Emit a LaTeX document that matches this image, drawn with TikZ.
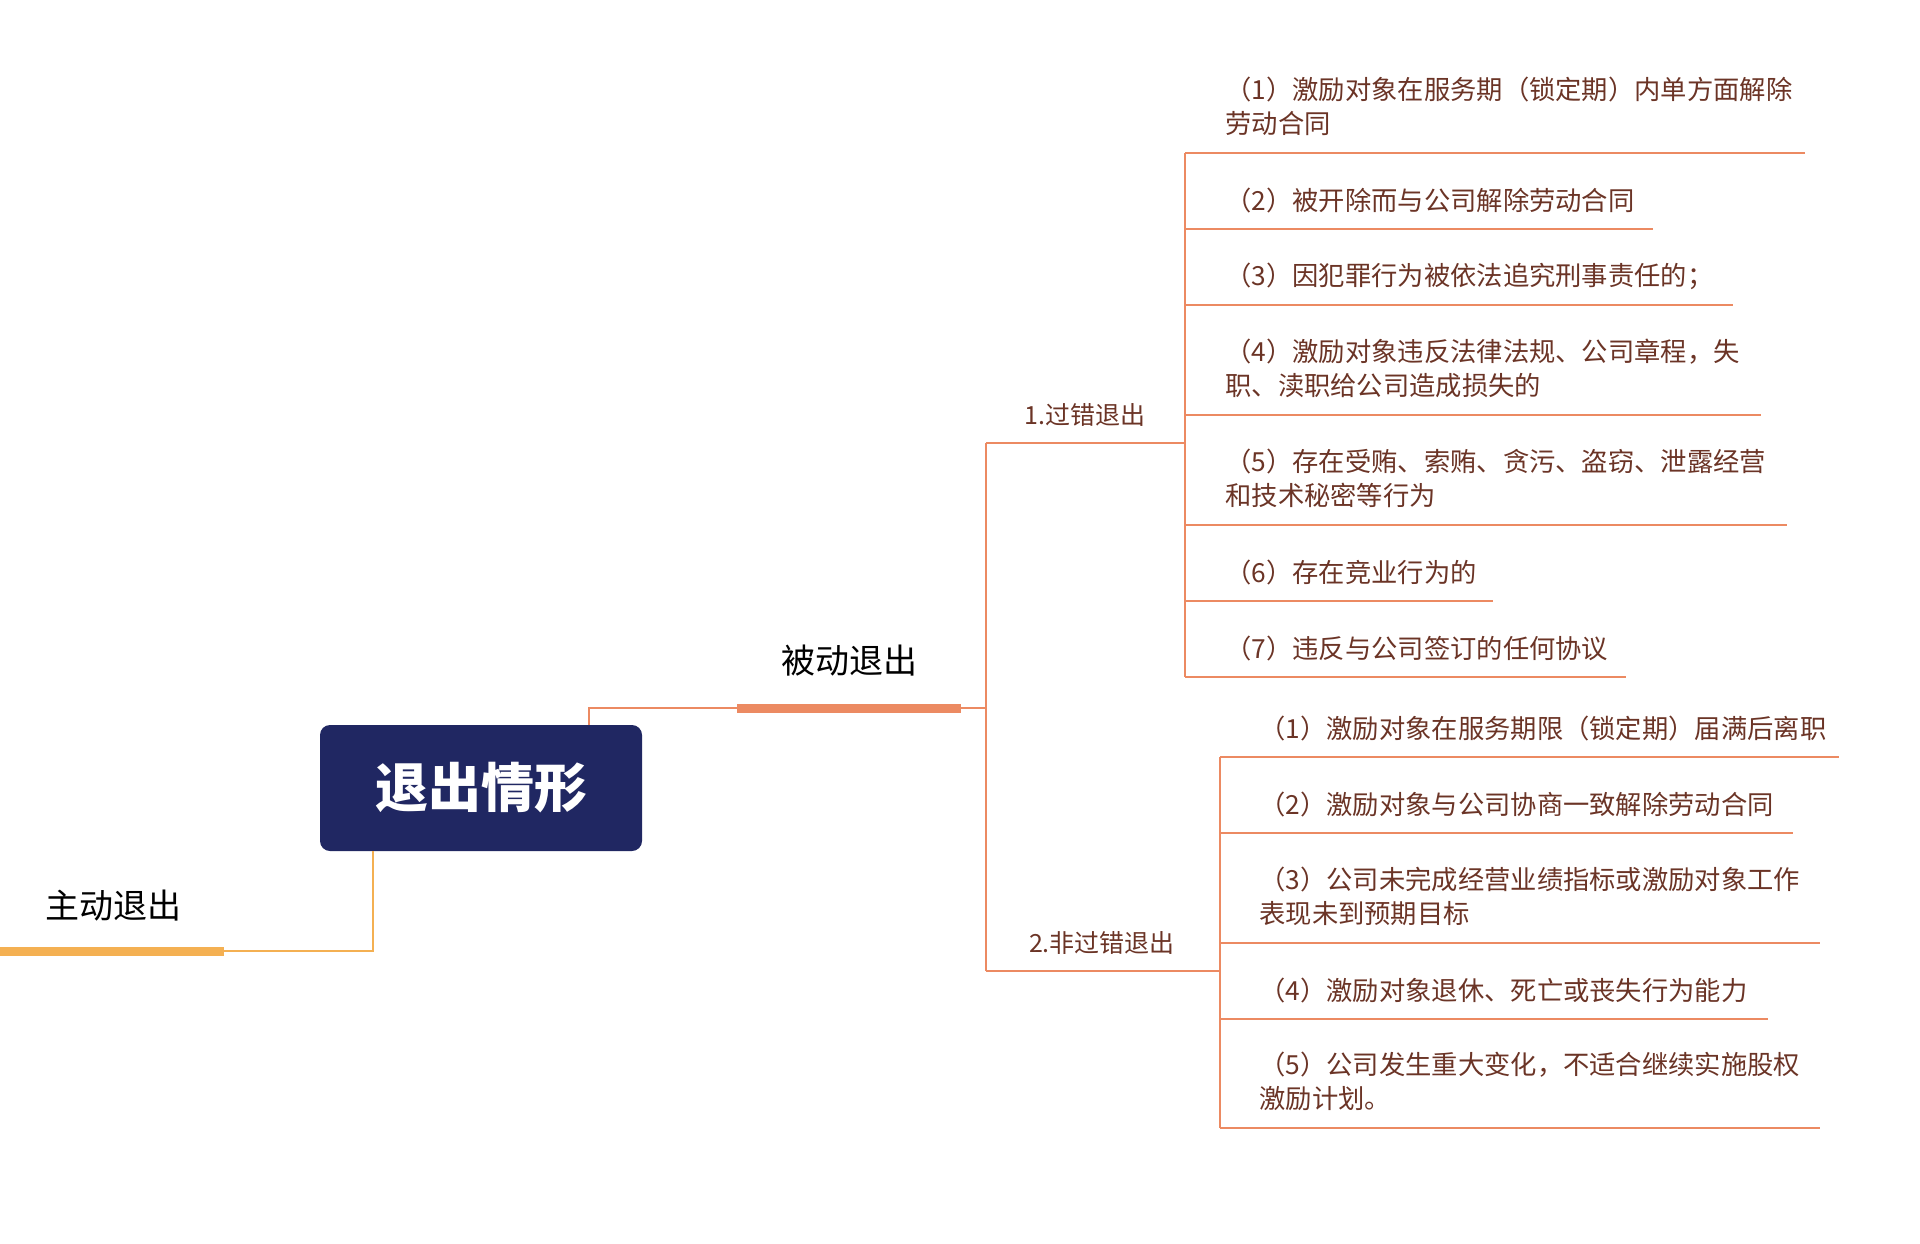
\documentclass[tikz,border=0pt]{standalone}
\usepackage{fontspec}
\setmainfont{Noto Sans CJK SC}
\definecolor{navy}{HTML}{202762}
\definecolor{lineor}{HTML}{EC8A62}
\definecolor{lineyl}{HTML}{F4B052}
\definecolor{txtbr}{HTML}{6B3426}
\begin{document}
\begin{tikzpicture}[x=0.5pt,y=-0.5pt,
  rootbox/.style={fill=navy,text=white,rounded corners=5pt,minimum width=161pt,minimum height=63pt,inner sep=0pt,font=\fontsize{26.5}{30}\selectfont\bfseries},
  mainlbl/.style={text=black,inner sep=0pt,font=\fontsize{17}{20}\selectfont},
  sublbl/.style={text=txtbr,inner sep=0pt,font=\fontsize{12.5}{15}\selectfont},
  item/.style={text=txtbr,inner sep=0pt,anchor=west,align=left,font=\fontsize{13.15}{17}\selectfont},
  thinor/.style={draw=lineor,line width=1pt},
  thickor/.style={draw=lineor,line width=4.5pt},
  thinyl/.style={draw=lineyl,line width=1pt},
  thickyl/.style={draw=lineyl,line width=4.5pt}]
\useasboundingbox (0,0) rectangle (1920,1243);

% root
\node[rootbox] (root) at (481,788) {退出情形};

% passive branch
\node[mainlbl] (passive) at (849,661) {被动退出};
\coordinate (pup) at (589,708);
\coordinate (pbarL) at (737,708);
\coordinate (pbarR) at (961,708);
\coordinate (pj) at (986,708);
\draw[thinor] (root.north -| pup) -- (pup) -- (pbarL);
\draw[thickor] (pbarL) -- (pbarR);
\draw[thinor] (pbarR) -- (pj);

% active branch
\node[mainlbl] (active) at (113,906) {主动退出};
\coordinate (adown) at (373,951);
\coordinate (abarR) at (224,951);
\coordinate (abarL) at (0,951);
\draw[thinyl] (root.south -| adown) -- (adown) -- (abarR);
\draw[thickyl] (abarR) -- (abarL);

% sub branches
\coordinate (g1j) at (986,443);
\coordinate (g2j) at (986,971);
\coordinate (g1v) at (1185,443);
\coordinate (g2v) at (1220,971);
\draw[thinor] (g1j) -- (g2j);
\draw[thinor] (g1j) -- (g1v);
\draw[thinor] (g2j) -- (g2v);
\node[sublbl] (g1) at (1085,415) {1.过错退出};
\node[sublbl] (g2) at (1102,943) {2.非过错退出};

% group 1 items
\node[item] (a1) at (1225,106.5) {（1）激励对象在服务期（锁定期）内单方面解除\\劳动合同};
\node[item] (a2) at (1225,200) {（2）被开除而与公司解除劳动合同};
\node[item] (a3) at (1225,276) {（3）因犯罪行为被依法追究刑事责任的；};
\node[item] (a4) at (1225,368.5) {（4）激励对象违反法律法规、公司章程，失\\职、渎职给公司造成损失的};
\node[item] (a5) at (1225,478.5) {（5）存在受贿、索贿、贪污、盗窃、泄露经营\\和技术秘密等行为};
\node[item] (a6) at (1225,572) {（6）存在竞业行为的};
\node[item] (a7) at (1225,648) {（7）违反与公司签订的任何协议};
\draw[thinor] (1185,153) -- (1185,677);
\draw[thinor] (1185,153) -- (1805,153);
\draw[thinor] (1185,229) -- (1653,229);
\draw[thinor] (1185,305) -- (1733,305);
\draw[thinor] (1185,415) -- (1761,415);
\draw[thinor] (1185,525) -- (1787,525);
\draw[thinor] (1185,601) -- (1493,601);
\draw[thinor] (1185,677) -- (1626,677);

% group 2 items
\node[item] (b1) at (1259,728) {（1）激励对象在服务期限（锁定期）届满后离职};
\node[item] (b2) at (1259,804) {（2）激励对象与公司协商一致解除劳动合同};
\node[item] (b3) at (1259,896.5) {（3）公司未完成经营业绩指标或激励对象工作\\表现未到预期目标};
\node[item] (b4) at (1259,990) {（4）激励对象退休、死亡或丧失行为能力};
\node[item] (b5) at (1259,1081.5) {（5）公司发生重大变化，不适合继续实施股权\\激励计划。};
\draw[thinor] (1220,757) -- (1220,1128);
\draw[thinor] (1220,757) -- (1839,757);
\draw[thinor] (1220,833) -- (1793,833);
\draw[thinor] (1220,943) -- (1820,943);
\draw[thinor] (1220,1019) -- (1768,1019);
\draw[thinor] (1220,1128) -- (1820,1128);
\end{tikzpicture}
\end{document}
